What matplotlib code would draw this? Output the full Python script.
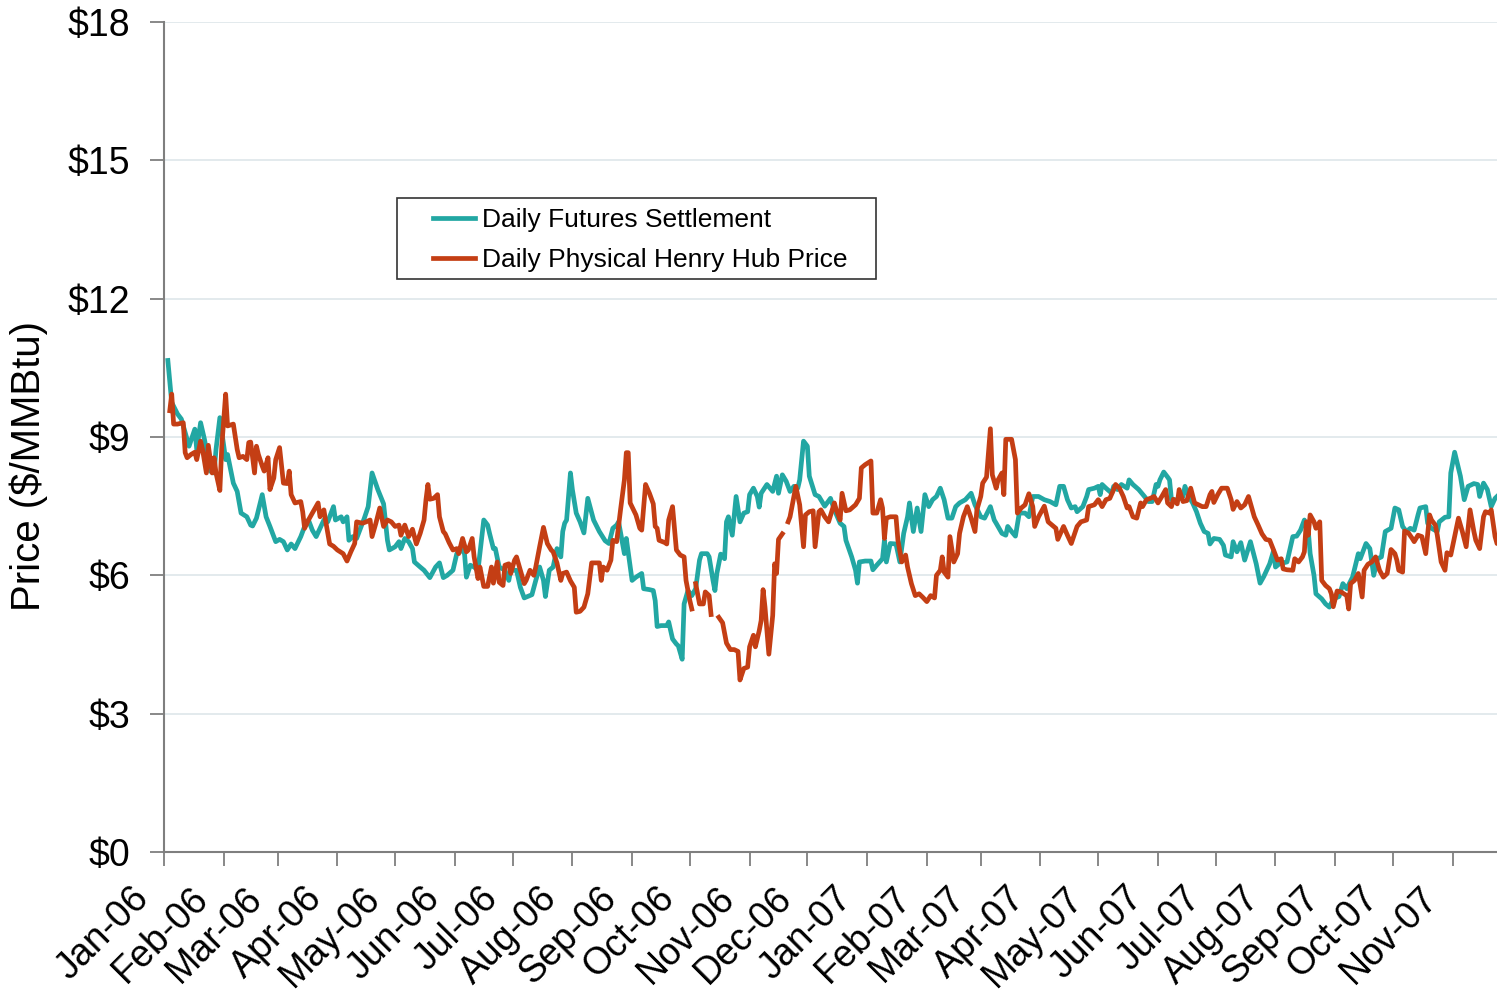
import numpy as np
import matplotlib.pyplot as plt
import matplotlib.dates as mdates
import matplotlib.transforms as mtransforms
from matplotlib.patches import Rectangle

plt.rcParams['font.family'] = ['Liberation Sans', 'DejaVu Sans']

# days counted from 2006-01-01, prices in $/MMBtu
fut_days = [2, 4, 7, 9, 13, 16, 17, 19, 21, 24, 26, 27, 29, 32, 33, 36, 38, 40, 43, 45,
            46, 48, 51, 53, 55, 58, 60, 62, 64, 66, 68, 71, 73, 75, 77, 79, 83, 85, 88, 89,
            92, 93, 95, 96, 98, 100, 102, 104, 106, 108, 111, 114, 116, 117, 120, 122, 123, 125, 127, 129,
            130, 133, 135, 138, 141, 143, 145, 147, 150, 152, 154, 156, 157, 159, 161, 163, 166, 168, 169, 171,
            172, 174, 177, 179, 180, 183, 185, 187, 191, 193, 195, 197, 198, 200, 202, 204, 206, 207, 208, 209,
            211, 212, 214, 216, 218, 220, 223, 226, 229, 231, 233, 235, 236, 239, 240, 243, 245, 248, 249, 252,
            254, 255, 256, 258, 261, 262, 264, 266, 267, 269, 270, 272, 274, 276, 278, 279, 282, 283, 285, 286,
            287, 289, 291, 292, 293, 295, 297, 299, 301, 303, 304, 306, 308, 309, 310, 313, 316, 318, 319, 321,
            323, 325, 327, 329, 330, 332, 334, 335, 338, 340, 343, 346, 348, 351, 353, 354, 357, 359, 360, 361,
            364, 367, 368, 370, 373, 374, 375, 377, 380, 382, 384, 386, 387, 389, 391, 393, 395, 397, 399, 401,
            403, 405, 407, 409, 411, 413, 416, 419, 421, 424, 426, 429, 431, 432, 435, 437, 438, 440, 442, 444,
            447, 449, 451, 454, 457, 460, 463, 465, 467, 469, 471, 473, 474, 477, 479, 480, 483, 485, 486, 487,
            489, 492, 493, 495, 497, 500, 501, 503, 506, 509, 511, 513, 515, 516, 517, 519, 521, 522, 523, 526,
            529, 530, 532, 534, 536, 538, 540, 542, 543, 545, 548, 550, 551, 554, 555, 557, 559, 561, 564, 567,
            569, 571, 574, 576, 577, 579, 581, 583, 586, 588, 590, 592, 594, 595, 597, 598, 601, 603, 605, 607,
            610, 612, 614, 617, 620, 621, 624, 626, 628, 630, 632, 634, 637, 639, 641, 643, 645, 647, 649, 651,
            652, 655, 656, 658, 661, 662, 665, 667, 668, 670, 673, 675, 677, 680, 682, 683, 685, 687, 689, 691,
            693]
fut_vals = [10.66, 9.75, 9.50, 9.39, 8.80, 9.17, 8.73, 9.31, 8.95, 8.26, 8.22, 8.73, 9.42, 8.51, 8.62, 8.00, 7.82, 7.35, 7.27, 7.09,
            7.07, 7.24, 7.75, 7.27, 7.06, 6.73, 6.78, 6.73, 6.55, 6.68, 6.58, 6.84, 7.06, 7.20, 6.98, 6.84, 7.20, 7.16, 7.49, 7.20,
            7.27, 7.16, 7.27, 6.76, 6.84, 6.80, 7.02, 7.24, 7.49, 8.22, 7.86, 7.55, 6.76, 6.55, 6.62, 6.73, 6.58, 6.80, 6.73, 6.58,
            6.29, 6.18, 6.11, 5.95, 6.18, 6.27, 5.95, 6.00, 6.11, 6.47, 6.58, 6.47, 5.96, 6.22, 6.18, 6.11, 7.20, 7.09, 6.91, 6.58,
            6.58, 6.18, 6.11, 5.89, 6.11, 6.11, 5.74, 5.51, 5.58, 5.89, 6.18, 5.89, 5.54, 6.11, 6.18, 6.58, 6.40, 6.95, 7.13, 7.20,
            8.22, 7.86, 7.35, 7.16, 6.92, 7.67, 7.20, 6.95, 6.75, 6.69, 7.02, 7.09, 7.16, 6.47, 6.80, 5.89, 5.96, 6.04, 5.71, 5.69,
            5.67, 5.45, 4.89, 4.91, 4.91, 4.99, 4.62, 4.51, 4.47, 4.18, 5.38, 5.67, 5.56, 5.71, 6.33, 6.47, 6.47, 6.40, 5.89, 5.67,
            6.04, 6.46, 6.36, 7.16, 7.27, 6.87, 7.71, 7.16, 7.35, 7.38, 7.75, 7.89, 7.71, 7.48, 7.78, 7.97, 7.82, 8.15, 7.78, 8.18,
            8.04, 7.82, 7.93, 7.89, 8.07, 8.91, 8.80, 8.15, 7.75, 7.71, 7.50, 7.67, 7.42, 7.13, 7.06, 6.76, 6.40, 6.11, 5.83, 6.29,
            6.31, 6.31, 6.12, 6.22, 6.36, 6.76, 6.29, 6.69, 6.68, 6.29, 6.91, 7.27, 7.57, 6.95, 7.46, 6.95, 7.75, 7.49, 7.64, 7.71,
            7.89, 7.64, 7.24, 7.24, 7.49, 7.57, 7.64, 7.78, 7.53, 7.27, 7.24, 7.49, 7.20, 7.13, 6.91, 6.87, 7.06, 6.95, 6.85, 7.35,
            7.35, 7.27, 7.71, 7.71, 7.64, 7.60, 7.53, 7.93, 7.93, 7.64, 7.46, 7.49, 7.38, 7.49, 7.71, 7.86, 7.89, 7.93, 7.75, 7.97,
            7.89, 7.78, 7.93, 7.86, 7.97, 7.89, 8.07, 7.97, 7.86, 7.71, 7.60, 7.60, 7.97, 7.93, 8.07, 8.24, 8.13, 8.07, 7.64, 7.64,
            7.71, 7.93, 7.71, 7.57, 7.38, 7.13, 6.95, 6.91, 6.68, 6.80, 6.78, 6.65, 6.44, 6.40, 6.73, 6.51, 6.71, 6.33, 6.73, 6.25,
            5.83, 5.98, 6.25, 6.53, 6.18, 6.25, 6.27, 6.29, 6.84, 6.85, 6.98, 7.20, 6.98, 6.47, 6.00, 5.60, 5.49, 5.38, 5.31, 5.49,
            5.54, 5.82, 5.71, 5.96, 6.47, 6.36, 6.69, 6.58, 6.00, 6.36, 6.40, 6.95, 7.02, 7.46, 7.42, 7.06, 6.95, 7.02, 6.98, 7.31,
            7.46, 7.49, 7.13, 7.02, 6.95, 7.16, 7.26, 7.27, 8.22, 8.67, 8.15, 7.64, 7.93, 7.99, 7.97, 7.71, 8.00, 7.86, 7.49, 7.67,
            7.75]

# nan = days with no physical price reported (gaps in the line)
hh_days = [3, 4, 5, 7, 10, 11, 12, 14, 16, 17, 19, 20, 22, 23, 25, 26, 27, 29, 30, 32,
           33, 36, 38, 39, 41, 43, 44, 45, 47, 48, 49, 51, 52, 54, 55, 57, 58, 60, 62, 64,
           65, 66, 68, 71, 72, 73, 75, 77, 80, 81, 83, 84, 86, 88, 90, 93, 95, 97, 99, 100,
           103, 105, 107, 108, 110, 112, 114, 116, 118, 120, 122, 123, 125, 127, 129, 131, 133, 135, 136, 137,
           138, 140, 142, 143, 145, 146, 148, 150, 152, 153, 155, 157, 158, 160, 161, 163, 164, 166, 168, 170,
           171, 173, 174, 176, 177, 179, 180, 182, 183, 185, 187, 188, 190, 192, 193, 195, 197, 199, 201, 202,
           204, 206, 207, 209, 211, 213, 214, 216, 218, 220, 222, 224, 226, 227, 228, 230, 232, 233, 235, 237,
           239, 240, 241, 242, 245, 247, 248, 250, 252, 254, 255, 256, 257, 260, 261, 262, 264, 266, 268, 270,
           271, 273, 274, 275, 276, 278, 280, 281, 283, 284, 286, 288, 290, 292, 294, 296, 298, 299, 301, 303,
           304, 306, 307, 309, 310, 311, 312, 314, 315, 316, 317, 318, 319, 321, 322, 324, 325, 327, 328, 330,
           332, 333, 335, 337, 338, 340, 341, 343, 345, 348, 349, 351, 352, 354, 356, 359, 361, 362, 364, 367,
           368, 370, 372, 373, 374, 375, 377, 380, 381, 383, 385, 386, 388, 390, 392, 394, 396, 398, 400, 401,
           403, 404, 405, 407, 408, 410, 412, 413, 415, 417, 419, 421, 422, 424, 425, 427, 429, 430, 432, 433,
           435, 436, 437, 440, 442, 443, 445, 447, 449, 451, 452, 454, 457, 459, 461, 463, 464, 467, 469, 471,
           474, 476, 479, 480, 483, 485, 487, 489, 491, 493, 494, 496, 498, 500, 501, 503, 505, 507, 508, 510,
           512, 514, 516, 518, 520, 521, 523, 524, 526, 527, 529, 531, 533, 535, 537, 539, 541, 543, 544, 545,
           547, 549, 552, 554, 555, 557, 559, 561, 563, 565, 566, 568, 570, 572, 574, 576, 578, 580, 581, 583,
           586, 587, 589, 591, 592, 593, 594, 595, 597, 598, 600, 601, 603, 605, 606, 607, 609, 611, 614, 615,
           616, 618, 620, 622, 623, 625, 627, 629, 631, 633, 635, 637, 639, 640, 641, 643, 644, 646, 648, 649,
           651, 653, 655, 657, 658, 660, 661, 663, 665, 666, 668, 670, 672, 674, 676, 678, 680, 681, 683, 685,
           686, 688, 689, 691, 692, 694]
hh_vals = [9.57, 9.93, 9.28, 9.28, 9.31, 8.66, 8.55, 8.62, 8.67, 8.51, 8.91, 8.73, 8.22, 8.82, 8.22, 8.55, 8.22, 7.84, 8.80, 9.93,
           9.24, 9.28, 8.73, 8.55, 8.58, 8.51, 8.88, 8.89, 8.22, 8.80, 8.62, 8.37, 8.26, 8.55, 7.86, 8.11, 8.51, 8.77, 8.00, 7.99,
           8.26, 7.75, 7.57, 7.60, 7.38, 7.02, 7.20, 7.35, 7.57, 7.27, 7.42, 7.16, 6.68, 6.63, 6.55, 6.47, 6.31, 6.51, 6.69, 7.16,
           7.13, 7.16, 7.20, 6.84, 7.13, 7.46, 7.06, 7.20, 7.16, 7.06, 7.09, 6.87, 7.09, 6.84, 7.00, 6.68, 6.91, 7.20, 7.64, 7.97,
           7.65, 7.67, 7.75, 7.27, 6.95, 6.90, 6.71, 6.55, 6.58, 6.47, 6.80, 6.51, 6.55, 6.80, 6.40, 5.93, 6.18, 5.76, 5.76, 6.18,
           5.83, 6.29, 5.85, 5.78, 6.22, 6.25, 6.04, 6.33, 6.40, 6.11, 5.82, 5.89, 6.11, 6.00, 6.18, 6.62, 7.04, 6.69, 6.55, 6.51,
           6.27, 5.89, 6.04, 6.07, 5.88, 5.74, 5.20, 5.22, 5.31, 5.60, 6.27, 6.27, 6.27, 5.89, 6.18, 6.11, 6.33, 6.76, 6.73, 7.42,
           8.07, 8.66, 8.66, 7.57, 7.31, 7.02, 6.98, 7.97, 7.78, 7.55, 7.06, 7.02, 6.76, 6.71, 6.68, 7.20, 7.49, 6.55, 6.44, 6.40,
           5.89, 5.45, 5.27, np.nan, 5.82, 5.38, 5.38, 5.64, 5.56, 5.15, np.nan, 5.09, 4.97, 4.53, 4.39, 4.39, 4.35, 3.73, 3.98, 4.01,
           4.45, 4.70, 4.45, 4.80, 5.02, 5.69, 5.31, 4.29, 4.72, 5.13, 6.25, 6.04, 6.78, 6.90, np.nan, 7.16, 7.27, 7.71, 7.93, 7.53,
           6.62, 7.31, 7.38, 7.40, 6.62, 7.38, 7.42, 7.27, 7.16, 7.57, 7.42, 7.20, 7.78, 7.40, 7.42, 7.53, 7.67, 8.33, 8.40, 8.48,
           7.35, 7.35, 7.64, 7.46, 6.80, 7.24, 7.27, 7.27, 6.76, 6.29, 6.44, 6.18, 5.82, 5.56, 5.60, 5.52, 5.43, 5.56, 5.51, 6.00,
           6.11, 6.40, 6.07, 5.96, 6.84, 6.29, 6.47, 6.91, 7.27, 7.49, 7.24, 6.95, 7.42, 7.71, 8.00, 8.13, 9.18, 8.18, 7.89, 8.07,
           8.22, 7.75, 8.95, 8.95, 8.51, 7.35, 7.46, 7.53, 7.77, 7.49, 7.06, 7.27, 7.50, 7.16, 7.09, 7.02, 6.78, 7.06, 6.87, 6.69,
           7.06, 7.16, 7.20, 7.49, 7.53, 7.64, 7.49, 7.64, 7.67, 7.86, 7.97, 7.89, 7.71, 7.46, 7.49, 7.27, 7.24, 7.57, 7.49, 7.64,
           7.67, 7.71, 7.57, 7.71, 7.86, 7.57, 7.49, 7.65, 7.55, 7.86, 7.60, 7.62, 7.89, 7.57, 7.53, 7.49, 7.49, 7.75, 7.82, 7.58,
           7.75, 7.89, 7.89, 7.64, 7.43, 7.60, 7.46, 7.53, 7.71, 7.42, 7.27, 7.09, 6.90, 6.78, 6.76, 6.55, 6.33, 6.36, 6.14, 6.12,
           6.11, 6.36, 6.29, 6.40, 6.51, 7.16, 6.87, 7.31, 7.16, 7.02, 7.16, 5.89, 5.78, 5.71, 5.60, 5.32, 5.66, 5.64, 5.56, 5.27,
           5.82, 5.89, 6.04, 5.53, 6.11, 6.24, 6.29, 6.40, 6.11, 5.96, 6.04, 6.56, 6.47, 6.33, 6.11, 6.07, 6.96, 6.92, 6.80, 6.73,
           6.87, 6.84, 6.47, 7.31, 7.20, 7.09, 6.87, 6.29, 6.11, 6.49, 6.44, 6.84, 7.24, 6.95, 6.62, 7.42, 6.95, 6.76, 6.58, 7.27,
           7.38, 7.35, 7.42, 6.84, 6.69, 6.69]

start = np.datetime64('2006-01-01')
fut_dates = start + np.array(fut_days, dtype='timedelta64[D]')
hh_dates = start + np.array(hh_days, dtype='timedelta64[D]')

month_ticks = np.arange('2006-01', '2007-12', dtype='datetime64[M]').astype('datetime64[D]')

teal = '#22A7A3'
red = '#C43E14'

fig = plt.figure(figsize=(14.97, 10.07), dpi=100)
ax = fig.add_axes([164 / 1497, 155 / 1007, 1333 / 1497, 830 / 1007])

ax.plot(fut_dates, fut_vals, color=teal, lw=3.4, label='Daily Futures Settlement')
ax.plot(hh_dates, hh_vals, color=red, lw=3.4, label='Daily Physical Henry Hub Price')

ax.set_ylim(0, 18)
ax.set_yticks([0, 3, 6, 9, 12, 15, 18])
ax.set_yticklabels(['$0', '$3', '$6', '$9', '$12', '$15', '$18'])
ax.set_xlim(np.datetime64('2006-01-01'), np.datetime64('2007-11-24'))
ax.set_xticks(month_ticks)
ax.xaxis.set_major_formatter(mdates.DateFormatter('%b-%y'))

ax.grid(axis='y', color='#E1E8EC', lw=1.3)
ax.set_axisbelow(True)
for side in ['top', 'right']:
    ax.spines[side].set_visible(False)
for side in ['left', 'bottom']:
    ax.spines[side].set_color('#7F7F7F')
    ax.spines[side].set_linewidth(1.5)
ax.tick_params(axis='y', length=10, width=1.3, color='#7F7F7F', pad=14, labelsize=27)
ax.tick_params(axis='x', length=10, width=1.3, color='#7F7F7F', pad=10, labelsize=27)

# rotated month labels sit a little left of their tick
shift = mtransforms.ScaledTranslation(-0.08, 0, fig.dpi_scale_trans)
for lab in ax.get_xticklabels():
    lab.set_rotation(45)
    lab.set_ha('right')
    lab.set_transform(lab.get_transform() + shift)

ax.set_ylabel('Price ($/MMBtu)', fontsize=29)
ax.yaxis.set_label_coords(-0.087, 0.465)

# legend box drawn by hand so it can be wider than the text
ax.add_patch(Rectangle((0.1748, 0.6904), 0.3593, 0.0976, transform=ax.transAxes,
                       fill=False, edgecolor='#333333', lw=1.2, zorder=5))
ax.legend(loc='upper left', bbox_to_anchor=(0.2018, 0.776), frameon=False,
          fontsize=19, borderpad=0, borderaxespad=0, handlelength=1.6,
          handletextpad=0.27, labelspacing=0.6)

fig.savefig('out.png', dpi=100)
